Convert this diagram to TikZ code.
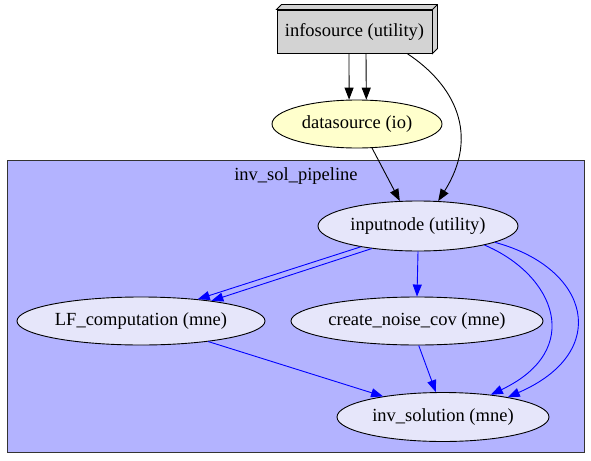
\documentclass[tikz,border=0pt]{standalone}
\usepackage{fontspec}
\setmainfont{Liberation Serif}
\usetikzlibrary{shapes.geometric,arrows.meta}
\definecolor{clusterblue}{HTML}{B3B3FF}
\definecolor{lavend}{HTML}{E6E6FA}
\definecolor{paleyellow}{HTML}{FFFFCC}
\definecolor{boxgray}{HTML}{D3D3D3}
\tikzset{
    job/.style={ellipse,draw,fill=lavend,inner sep=0pt,minimum height=48pt,line width=0.9pt},
    dep/.style={-{Triangle[length=12pt,width=9pt]},line width=0.9pt},
    bluedep/.style={dep,blue}
}
\begin{document}
\begin{tikzpicture}[x=1pt,y=-1pt,every node/.style={font=\fontsize{18.5}{21}\selectfont}]
    \useasboundingbox (0,0) rectangle (591,460);
    % cluster
    \draw[fill=clusterblue,draw=black!80,line width=0.9pt] (7,160) rectangle (584,452);
    \node (clabel) at (296,176) {inv\_sol\_pipeline};
    % nodes
    \node[draw,fill=boxgray,minimum width=155pt,minimum height=43pt,inner sep=0pt,line width=0.9pt] (info) at (354.5,31.5) {infosource (utility)};
    \draw[fill=boxgray,line width=0.9pt] (info.north west) -- ++(5,-5) -- ([shift={(5,-5)}]info.north east)
        -- ([shift={(5,-5)}]info.south east) -- (info.south east) -- (info.north east) -- cycle;
    \draw[line width=0.9pt] (info.north east) -- ++(5,-5);
    \node[job,fill=paleyellow,minimum width=170pt] (dsrc) at (357,124) {datasource (io)};
    \node[job,minimum width=200pt,minimum height=50pt] (inp) at (418,226) {inputnode (utility)};
    \node[job,minimum width=248pt] (lf) at (141,321) {LF\_computation (mne)};
    \node[job,minimum width=252pt] (noise) at (417,321) {create\_noise\_cov (mne)};
    \node[job,minimum width=212pt,minimum height=49pt] (inv) at (443,417) {inv\_solution (mne)};
    % connectors
    \draw[dep] ([xshift=-5.5pt]info.south) -- (dsrc.108.5);
    \draw[dep] ([xshift=11.5pt]info.south) -- (dsrc.69.4);
    \draw[dep] ([xshift=52.5pt]info.south) .. controls (455,85) and (480,135) .. (inp.51);
    \draw[dep] (dsrc.-58) -- (inp.126);
    \draw[bluedep] (inp.200) -- (lf.21);
    \draw[bluedep] (inp.206) -- (lf.16.5);
    \draw[bluedep] (inp.south) -- (noise.north);
    \draw[bluedep] (inp.-16.7) .. controls (555,275) and (585,350) .. (inv.25);
    \draw[bluedep] (inp.-12.4) .. controls (590,268) and (612,352) .. (inv.17);
    \draw[bluedep] (lf.-17) -- (inv.161);
    \draw[bluedep] (noise.-86) -- (inv.106);
\end{tikzpicture}
\end{document}
